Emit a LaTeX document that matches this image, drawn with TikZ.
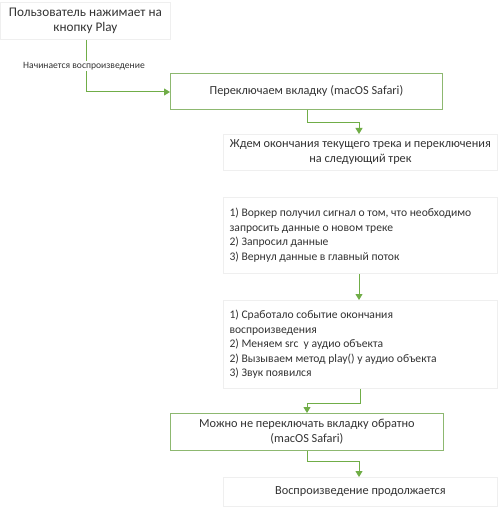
\documentclass[tikz,border=0pt]{standalone}
\usepackage{fontspec}
\setmainfont{Carlito}
\usetikzlibrary{arrows.meta}
\definecolor{grn}{HTML}{70AD47}
\definecolor{grnb}{HTML}{8DB870}
\definecolor{faint}{HTML}{EFEFEF}
\tikzset{
  gbox/.style={draw=grnb, line width=0.9pt, inner sep=0pt},
  fbox/.style={draw=faint, line width=0.8pt, inner sep=0pt},
  conn/.style={draw=grn, line width=1pt, -{Triangle[length=6pt,width=7pt]}},
  txt/.style={font=\fontsize{12.3}{14.8}\selectfont, text=black!80, align=center},
  ltxt/.style={font=\fontsize{11.6}{14.6}\selectfont, text=black!80, align=left, anchor=west},
}
\begin{document}
\begin{tikzpicture}[x=1pt,y=-1pt]
\useasboundingbox (0,0) rectangle (500,513);
\fill[white] (0,0) rectangle (500,513);
% boxes
\node[fbox, minimum width=170pt, minimum height=37pt, anchor=north west] (b1) at (0,2) {};
\node[font=\fontsize{13.2}{15.5}\selectfont, text=black!80, align=center] at (b1.center) {Пользователь нажимает на\\кнопку Play};

\node[gbox, minimum width=272pt, minimum height=36pt, anchor=north west] (b2) at (170,73) {};
\node[txt] at (b2.center) {Переключаем вкладку (macOS Safari)};

\node[fbox, minimum width=274pt, minimum height=36pt, anchor=north west] (b3) at (223,134) {};
\node[txt] at (b3.center) {Ждем окончания текущего трека и переключения\\на следующий трек};

\node[fbox, minimum width=274pt, minimum height=76pt, anchor=north west] (b4) at (223,197) {};
\node[ltxt] at ([xshift=3pt]b4.west) {1) Воркер получил сигнал о том, что необходимо\\запросить данные о новом треке\\2) Запросил данные\\3) Вернул данные в главный поток};

\node[fbox, minimum width=274pt, minimum height=88pt, anchor=north west] (b5) at (223,300) {};
\node[ltxt] at ([xshift=3pt]b5.west) {1) Сработало событие окончания\\воспроизведения\\2) Меняем src\ \ у аудио объекта\\2) Вызываем метод play() у аудио объекта\\3) Звук появился};

\node[gbox, minimum width=273pt, minimum height=37pt, anchor=north west] (b6) at (170,413) {};
\node[txt] at (b6.center) {Можно не переключать вкладку обратно\\(macOS Safari)};

\node[fbox, minimum width=274pt, minimum height=29pt, anchor=north west] (b7) at (223,477) {};
\node[txt] at (b7.center) {Воспроизведение продолжается};

% connectors
\coordinate (c1) at (86,92);
\draw[conn] (b1.south -| c1) -- (c1) -- (b2.west |- c1);
\node[font=\fontsize{9.6}{11}\selectfont, text=black!80, fill=white, inner sep=1pt] at (84,66) {Начинается воспроизведение};

\coordinate (c2a) at (307,123);
\coordinate (c2b) at (359,123);
\draw[conn] (b2.south -| c2a) -- (c2a) -- (c2b) -- (b3.north -| c2b);

\coordinate (c3) at (359,273);
\draw[conn] (b4.south -| c3) -- (b5.north -| c3);

\coordinate (c4a) at (360,403);
\coordinate (c4b) at (307,403);
\draw[conn] (b5.south -| c4a) -- (c4a) -- (c4b) -- (b6.north -| c4b);

\coordinate (c5a) at (307,461);
\coordinate (c5b) at (359,461);
\draw[conn] (b6.south -| c5a) -- (c5a) -- (c5b) -- (b7.north -| c5b);
\end{tikzpicture}
\end{document}
